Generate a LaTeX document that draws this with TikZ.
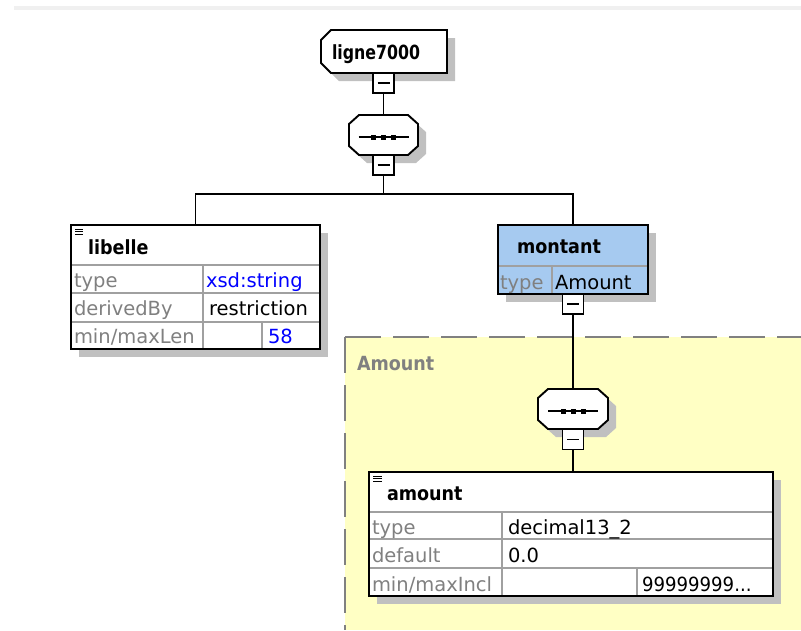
\documentclass[tikz,border=0pt]{standalone}
\usepackage{fontspec}
\setmainfont{DejaVu Sans}
\newfontfamily\hdfont{DejaVu Sans Bold}[FakeStretch=0.9]
\usetikzlibrary{shadows}
\definecolor{shd}{HTML}{C0C0C0}
\definecolor{ylw}{HTML}{FFFFC4}
\definecolor{blu}{HTML}{A6CAF0}
\definecolor{txtgray}{HTML}{808080}
\definecolor{rowgray}{HTML}{A0A0A0}
\definecolor{xblue}{HTML}{0000FF}
\definecolor{topbar}{HTML}{F0F0F0}
\definecolor{dashgray}{HTML}{808080}
\begin{document}
\begin{tikzpicture}[x=1pt,y=-1pt,
 every node/.style={inner sep=0pt, outer sep=0pt},
 txt/.style={font=\fontsize{19.5}{22}\selectfont, anchor=base west},
 bld/.style={font=\fontsize{19.5}{22}\selectfont\hdfont, anchor=base west},
 lbl/.style={txt, text=txtgray},
 val/.style={txt, text=xblue},
 shadowed/.style={drop shadow={shadow xshift=8pt, shadow yshift=-8pt, fill=shd, opacity=1, draw=none}},
 tbox/.style={draw=black, line width=2pt, fill=white, rectangle, shadowed},
 hold/.style={rectangle, draw=none},
 minusbox/.style={draw=black, line width=1.6pt, fill=white, rectangle, minimum width=21pt, minimum height=20pt},
 outline/.style={draw=black, line width=1.9pt, fill=white},
 conn/.style={draw=black, line width=1.8pt},
 rowline/.style={draw=rowgray, line width=1.3pt},
 icon/.style={draw=black, line width=1pt},
 minusline/.style={draw=black, line width=1.5pt},
]
\useasboundingbox (0,0) rectangle (801,630);
% top bar
\fill[topbar] (14,6) rectangle (801,9.5);
% yellow complex type area
\fill[ylw] (345,337) rectangle (801,630);
\draw[dashgray, line width=1.6pt, dash pattern=on 36pt off 12pt] (345,337) -- (801,337);
\draw[dashgray, line width=1.6pt, dash pattern=on 36pt off 12pt] (345,337) -- (345,630);
\node[bld, text=txtgray] (amtlabel) at (357,370) {Amount};

% ---- ligne7000
\fill[shd, shift={(8,8)}] (331,30) -- (447,30) -- (447,73) -- (331,73) -- (321,63) -- (321,40) -- cycle;
\draw[outline] (331,30) -- (447,30) -- (447,73) -- (331,73) -- (321,63) -- (321,40) -- cycle;
\node[hold, minimum width=126pt, minimum height=43pt] (ligne) at (384,51.5) {};
\node[bld] (lignetxt) at (332,59) {\scalebox{0.9}[1]{ligne7000}};
\node[minusbox] (m1) at (383.5,83) {};
\draw[minusline] ([xshift=-6pt]m1.center) -- ([xshift=6pt]m1.center);

% ---- sequence 1
\fill[shd, shift={(8,8)}] (359,115)--(408,115)--(418,124)--(418,146)--(408,155)--(359,155)--(349,146)--(349,124)--cycle;
\draw[outline] (359,115)--(408,115)--(418,124)--(418,146)--(408,155)--(359,155)--(349,146)--(349,124)--cycle;
\node[hold, minimum width=69pt, minimum height=40pt] (seq1) at (383.5,135) {};
\draw[black, line width=1.5pt] (358.5,137) -- (408.5,137);
\foreach \dx in {-10,0,10} \fill[black] ([xshift=\dx pt, yshift=-2pt]seq1.center) ++(-2.5,-2.5) rectangle ++(5,5);
\node[minusbox] (m2) at (383.5,165) {};
\draw[minusline] ([xshift=-6pt]m2.center) -- ([xshift=6pt]m2.center);
\draw[conn] (m1.south) -- (seq1.north);

% ---- libelle
\node[tbox, minimum width=249pt, minimum height=124pt] (lib) at (195.5,287) {};
\draw[rowline] (71,265) -- (320,265);
\draw[rowline] (71,293) -- (320,293);
\draw[rowline] (71,322) -- (320,322);
\draw[rowline] (203,265) -- (203,349);
\draw[rowline] (262,322) -- (262,349);
\draw[black, line width=2pt] (lib.north west) rectangle (lib.south east);
\foreach \yy in {229,231.5,234} \draw[icon] (75,\yy) -- (83,\yy);
\node[bld] (libtxt) at (88,254) {libelle};
\node[lbl] (l1a) at (74,287) {type};
\node[val] (l1b) at (206,287) {xsd:string};
\node[lbl] (l2a) at (74,315) {derivedBy};
\node[txt] (l2b) at (209,315) {restriction};
\node[lbl] (l3a) at (74,343) {min/maxLen};
\node[val] (l3b) at (268,343) {58};

% ---- montant
\node[tbox, fill=blu, minimum width=150pt, minimum height=69pt] (mont) at (573,259.5) {};
\draw[rowline] (498,266) -- (648,266);
\draw[rowline] (552,266) -- (552,294);
\draw[black, line width=2pt] (mont.north west) rectangle (mont.south east);
\node[bld] (monttxt) at (517,253) {montant};
\node[lbl] (mt1) at (500,289) {type};
\node[txt] (mt2) at (555,289) {Amount};
\node[minusbox] (m3) at (573,304) {};
\draw[minusline] ([xshift=-6pt]m3.center) -- ([xshift=6pt]m3.center);

% ---- fork
\coordinate (fork) at (383.5,194);
\draw[conn] (m2.south) -- (fork);
\draw[conn] (lib.north) |- (fork) -| (mont.north);

% ---- sequence 2
\fill[shd, shift={(8,8)}] (548,389)--(598,389)--(608,398)--(608,420)--(598,429)--(548,429)--(538,420)--(538,398)--cycle;
\draw[outline] (548,389)--(598,389)--(608,398)--(608,420)--(598,429)--(548,429)--(538,420)--(538,398)--cycle;
\node[hold, minimum width=70pt, minimum height=40pt] (seq2) at (573,409) {};
\draw[black, line width=1.5pt] (548,411) -- (598,411);
\foreach \dx in {-10,0,10} \fill[black] ([xshift=\dx pt, yshift=-2pt]seq2.center) ++(-2.5,-2.5) rectangle ++(5,5);
\node[minusbox] (m4) at (573,439.5) {};
\draw[minusline] ([xshift=-6pt]m4.center) -- ([xshift=6pt]m4.center);
\draw[conn] (m3.south) -- (seq2.north);

% ---- amount
\node[tbox, minimum width=404pt, minimum height=124pt] (amt) at (571,534) {};
\draw[rowline] (369,512) -- (773,512);
\draw[rowline] (369,539) -- (773,539);
\draw[rowline] (369,568) -- (773,568);
\draw[rowline] (502,512) -- (502,596);
\draw[rowline] (637,568) -- (637,596);
\draw[black, line width=2pt] (amt.north west) rectangle (amt.south east);
\foreach \yy in {476,478.5,481} \draw[icon] (373,\yy) -- (382,\yy);
\node[bld] (amttxt) at (387,500) {amount};
\node[lbl] (a1a) at (372,534) {type};
\node[txt] (a1b) at (508,534) {decimal13\_2};
\node[lbl] (a2a) at (372,562) {default};
\node[txt] (a2b) at (508,562) {0.0};
\node[lbl] (a3a) at (372,591) {min/maxIncl};
\node[txt] (a3b) at (642,591) {\scalebox{0.93}[1]{99999999...}};
\draw[conn] (m4.south) -- (m4.south |- amt.north);
\end{tikzpicture}
\end{document}
